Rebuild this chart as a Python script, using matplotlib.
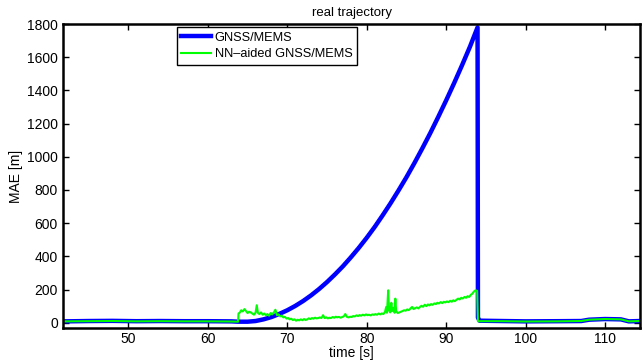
import numpy as np
import matplotlib
matplotlib.use("Agg")
import matplotlib.pyplot as plt

plt.rcParams['font.family'] = ['Liberation Sans', 'DejaVu Sans']
plt.rcParams['font.size'] = 10

# GNSS/MEMS error
t_gnss = [42, 45, 48, 51, 54, 57, 60, 63, 63.8, 65, 66, 67, 68, 69, 70, 71, 72, 73, 74,
          75, 76, 77, 78, 79, 80, 81, 82, 83, 84, 85, 86, 87, 88, 89, 90, 91,
          92, 93, 93.95, 94.0, 94.2, 97, 100, 104, 107, 108, 110, 112, 113, 114.4]
mae_gnss = [8, 10, 11, 9, 10, 9, 9, 8, 6, 6, 10, 20, 34, 53, 75, 101, 131, 165, 203,
            245, 291, 340, 394, 451, 512, 577, 647, 720, 797, 877, 962, 1051, 1143, 1240, 1340, 1444,
            1552, 1664, 1780, 30, 12, 10, 8, 9, 10, 18, 22, 20, 8, 10]

# NN-aided GNSS/MEMS error
t_nn = [42, 45, 48, 51, 54, 57, 60, 63, 63.8, 63.85,
        64.0, 64.2, 64.4, 64.6, 64.8, 65.0, 65.2, 65.4, 65.6, 65.8, 66.0, 66.15, 66.3, 66.5,
        66.7, 66.9, 67.1, 67.3, 67.5, 67.7, 67.9, 68.1, 68.3, 68.5, 68.7, 68.9, 69.1, 69.3,
        69.5, 69.7, 69.9, 70.1, 70.3, 70.5, 70.7, 70.9, 71.1, 71.3, 71.5, 71.7, 71.9, 72.1,
        72.3, 72.5, 72.7, 72.9, 73.1, 73.3, 73.5, 73.7, 73.9, 74.1, 74.3, 74.5, 74.7, 74.9,
        75.1, 75.3, 75.5, 75.7, 75.9, 76.1, 76.3, 76.5, 76.7, 76.9, 77.1, 77.3, 77.5, 77.7,
        77.9, 78.1, 78.3, 78.5, 78.7, 78.9, 79.1, 79.3, 79.5, 79.7, 79.9, 80.1, 80.3, 80.5,
        80.7, 80.9, 81.1, 81.3, 81.5, 81.7, 81.9, 82.1, 82.3, 82.45, 82.55, 82.7, 82.8, 82.95,
        83.1, 83.2, 83.35, 83.5, 83.6, 83.7, 83.9, 84.1, 84.3, 84.5, 84.7, 84.9, 85.1, 85.3,
        85.5, 85.7, 85.9, 86.1, 86.3, 86.5, 86.7, 86.9, 87.1, 87.3, 87.5, 87.7, 87.9, 88.1,
        88.3, 88.5, 88.7, 88.9, 89.1, 89.3, 89.5, 89.7, 89.9, 90.1, 90.3, 90.5, 90.7, 90.9,
        91.1, 91.3, 91.5, 91.7, 91.9, 92.1, 92.3, 92.5, 92.7, 92.9, 93.1, 93.3, 93.5, 93.7,
        93.9, 94.0, 94.3, 97, 100, 104, 107, 108, 110, 112, 113, 114.4]
mae_nn = [8, 9, 10, 8, 9, 8, 8, 7, 6, 55,
          60, 75, 68, 82, 70, 58, 66, 62, 55, 48, 60, 105, 58, 52,
          62, 48, 55, 45, 52, 42, 58, 50, 62, 78, 45, 50, 38, 42,
          32, 35, 25, 28, 20, 24, 16, 20, 12, 18, 14, 20, 15, 22,
          16, 20, 26, 22, 28, 24, 30, 26, 28, 32, 28, 45, 28, 32,
          26, 30, 28, 34, 30, 36, 32, 35, 30, 34, 38, 52, 35, 32,
          36, 34, 40, 38, 44, 40, 46, 42, 48, 44, 50, 45, 48, 44,
          50, 47, 52, 48, 55, 50, 56, 52, 65, 95, 60, 195, 75, 62,
          120, 70, 90, 60, 145, 70, 58, 62, 66, 70, 75, 72, 80, 76,
          85, 95, 82, 88, 92, 86, 95, 102, 96, 108, 100, 110, 104, 112,
          108, 116, 112, 120, 116, 124, 118, 126, 122, 128, 124, 132, 126, 135,
          130, 138, 145, 140, 150, 146, 155, 150, 160, 155, 168, 175, 188, 195,
          192, 8, 9, 9, 7, 8, 10, 18, 22, 20, 8, 10]

fig = plt.figure(figsize=(6.43, 3.64), dpi=100)
ax = fig.add_axes([0.0985, 0.098, 0.8968, 0.836])

ax.plot(t_gnss, mae_gnss, color=(0, 0, 1), lw=3.2, label='GNSS/MEMS')
ax.plot(t_nn, mae_nn, color=(0, 1, 0), lw=1.5, label='NN\u2013aided GNSS/MEMS')

ax.set_xlim(41.8, 114.4)
ax.set_ylim(-34, 1800)
ax.set_xticks(np.arange(50, 111, 10))
ax.set_yticks(np.arange(0, 1801, 200))
ax.tick_params(direction='in', top=True, right=True, length=4, width=1, pad=4)
ax.tick_params(axis='x', pad=3)
for s in ax.spines.values():
    s.set_linewidth(1.8)

ax.set_title('real trajectory', fontsize=9.5, pad=6)
ax.set_xlabel('time [s]', labelpad=0)
ax.set_ylabel('MAE [m]', labelpad=2.5)

leg = ax.legend(loc='upper left', bbox_to_anchor=(0.197, 0.989), fancybox=False,
                edgecolor='black', framealpha=1, handlelength=2.3, borderpad=0.35,
                labelspacing=0.35, handletextpad=0.3, borderaxespad=0, fontsize=9.2)
leg.get_frame().set_linewidth(1.0)

fig.savefig('out.png', dpi=100)
